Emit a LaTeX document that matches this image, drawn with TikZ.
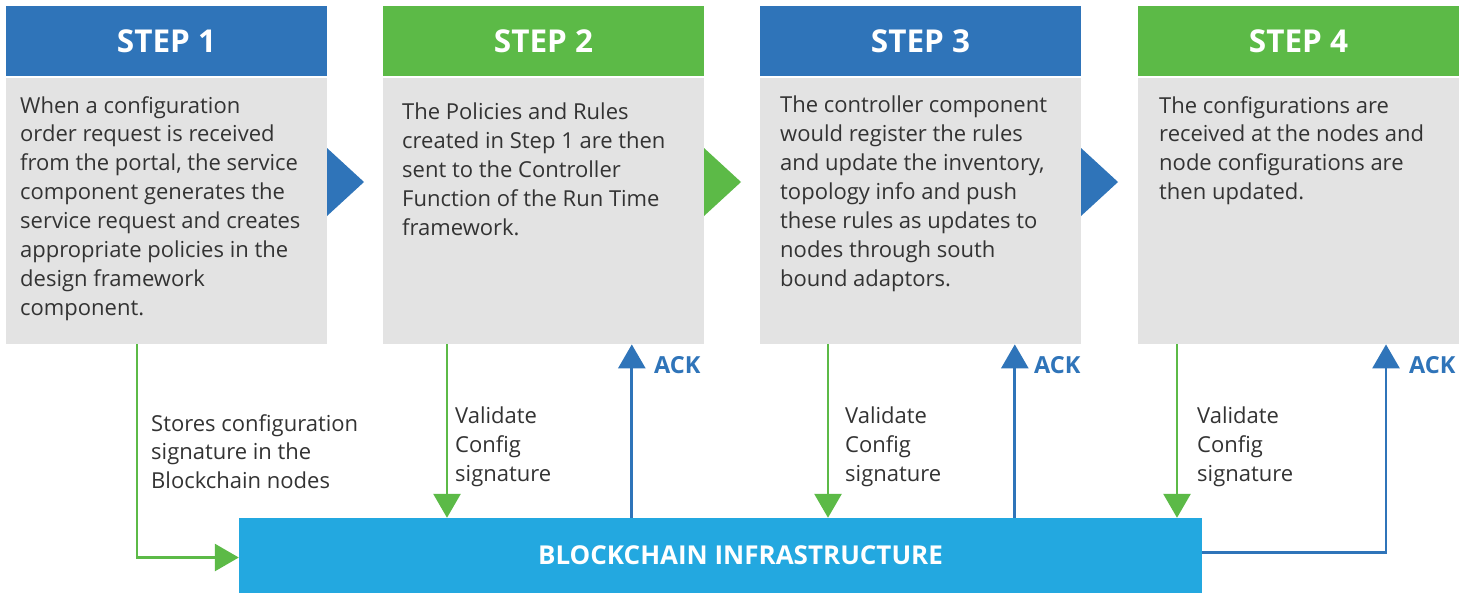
\documentclass[tikz,border=0pt]{standalone}
\usepackage{fontspec}
\setmainfont{Open Sans}
\usetikzlibrary{arrows.meta,calc}
\definecolor{sblue}{HTML}{2F74B9}
\definecolor{sgreen}{HTML}{5CBA47}
\definecolor{sgray}{HTML}{E3E3E3}
\definecolor{bcblue}{HTML}{23A8E0}
\definecolor{txt}{HTML}{333333}
\tikzset{
  hdr/.style={minimum width=321pt,minimum height=70pt,inner sep=0,text=white,font=\fontsize{31.5}{36}\selectfont\bfseries},
  bodybox/.style={fill=sgray,minimum width=321pt,minimum height=266pt,inner sep=0,anchor=north west},
  bodytxt/.style={anchor=north west,inner sep=0,align=left,text=txt,font=\fontsize{22}{28.9}\selectfont},
  lbl/.style={anchor=north west,inner sep=0,align=left,text=txt,font=\fontsize{22}{28.9}\selectfont},
  ack/.style={anchor=west,inner sep=0,text=sblue,font=\fontsize{23.5}{28}\selectfont\bfseries},
  garrow/.style={draw=sgreen,line width=2.8pt,-{Triangle[length=24pt,width=27pt]}},
  barrow/.style={draw=sblue,line width=2.8pt,-{Triangle[length=24pt,width=27pt]}},
}
\begin{document}
\begin{tikzpicture}[x=1pt,y=-1pt]
\useasboundingbox[fill=white] (0,0) rectangle (1474,595);
% headers
\node[hdr,fill=sblue]  (h1) at (166.5,41) {STEP 1};
\node[hdr,fill=sgreen] (h2) at (543.5,41) {STEP 2};
\node[hdr,fill=sblue]  (h3) at (920.5,41) {STEP 3};
\node[hdr,fill=sgreen] (h4) at (1298.5,41) {STEP 4};
% bodies
\node[bodybox] (b1) at (6,78) {};
\node[bodybox] (b2) at (383,78) {};
\node[bodybox] (b3) at (760,78) {};
\node[bodybox] (b4) at (1138,78) {};
\node[bodytxt] (t1) at (20,96) {When a configuration\\order request is received\\from the portal, the service\\component generates the\\service request and creates\\appropriate policies in the\\design framework\\component.};
\node[bodytxt] (t2) at (402,103) {The Policies and Rules\\created in Step 1 are then\\sent to the Controller\\Function of the Run Time\\framework.};
\node[bodytxt] (t3) at (780,96) {The controller component\\would register the rules\\and update the inventory,\\topology info and push\\these rules as updates to\\nodes through south\\bound adaptors.};
\node[bodytxt] (t4) at (1159,96) {The configurations are\\received at the nodes and\\node configurations are\\then updated.};
% chevrons
\fill[sblue]  (327,148) -- (364,182) -- (327,216) -- cycle;
\fill[sgreen] (704,148) -- (741,182) -- (704,216) -- cycle;
\fill[sblue]  (1081,148) -- (1118,182) -- (1081,216) -- cycle;
% blockchain bar
\node[fill=bcblue,minimum width=963pt,minimum height=75pt,inner sep=0] (bc) at (720.5,555.5) {};
\node[inner sep=0,text=white,font=\fontsize{26}{30}\selectfont\bfseries] (bct) at ($(bc.center)+(20,0)$) {BLOCKCHAIN INFRASTRUCTURE};
% connectors
\draw[garrow] ($(b1.south west)+(131,0)$) |- ($(bc.west)+(0,2)$);
\draw[garrow] ($(b2.south west)+(64,0)$) coordinate (d2) -- (d2 |- bc.north);
\draw[garrow] ($(b3.south west)+(68,0)$) coordinate (d3) -- (d3 |- bc.north);
\draw[garrow] ($(b4.south west)+(39,0)$) coordinate (d4) -- (d4 |- bc.north);
\draw[barrow] ($(bc.north west)+(393,0)$) coordinate (u2) -- (u2 |- b2.south);
\draw[barrow] ($(bc.north west)+(776,0)$) coordinate (u3) -- (u3 |- b3.south);
\coordinate (u4) at ($(bc.east)+(0,-3)$);
\draw[barrow] (u4) -| ($(b4.south west)+(248,0)$);
% labels
\node[lbl] (l1) at (151,414) {Stores configuration\\signature in the\\Blockchain nodes};
\node[lbl] (l2) at (455,407) {Validate\\Config\\signature};
\node[lbl] (l3) at (845,407) {Validate\\Config\\signature};
\node[lbl] (l4) at (1197,407) {Validate\\Config\\signature};
\node[ack] (a2) at (654,365) {ACK};
\node[ack] (a3) at (1034,365) {ACK};
\node[ack] (a4) at (1409,365) {ACK};
\end{tikzpicture}
\end{document}
